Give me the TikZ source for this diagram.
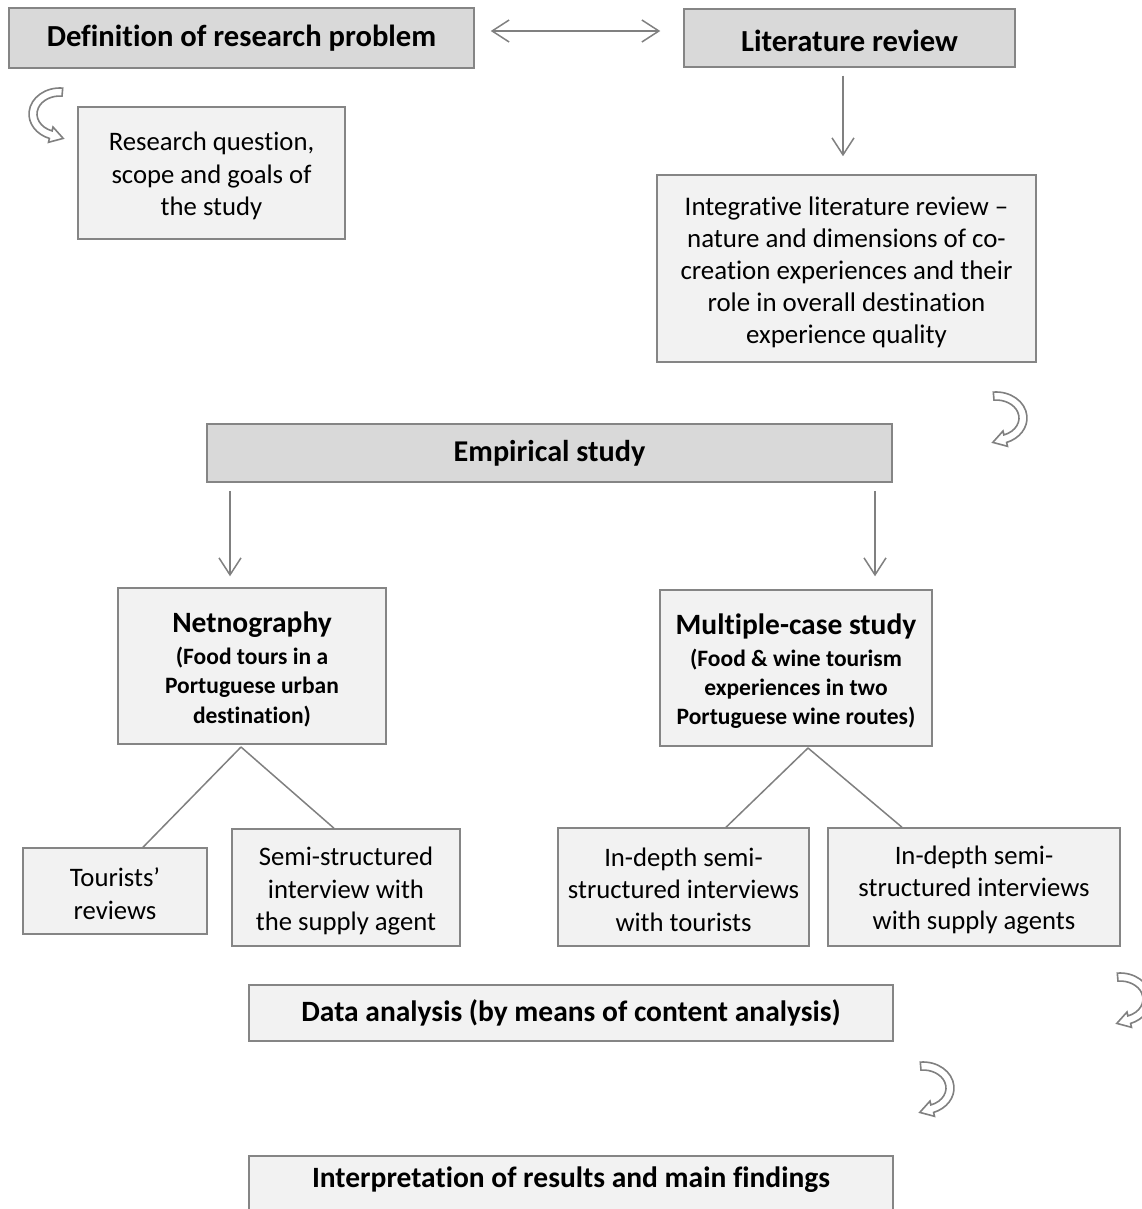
\documentclass[tikz,border=0pt]{standalone}
\usepackage{fontspec}
\setmainfont{Carlito}[Ligatures=CommonOff]
\usetikzlibrary{arrows.meta}
\definecolor{darkfill}{HTML}{D9D9D9}
\definecolor{lightfill}{HTML}{F2F2F2}
\definecolor{bordergray}{HTML}{858585}
\definecolor{linegray}{HTML}{808080}
\newcommand\fbody{\fontsize{26.7}{32.5}\selectfont}
\newcommand\fbodyb{\fontsize{26.9}{32}\selectfont}
\newcommand\fhead{\fontsize{29.5}{36}\selectfont\bfseries}
\newcommand\fheadl{\fontsize{30.6}{36}\selectfont\bfseries}
\newcommand\fsub{\fontsize{23.5}{29.3}\selectfont\bfseries}
\newcommand\tstrut[1]{\rule{0pt}{#1pt}}
\newcommand\curvarr[2]{%
  \begin{scope}[shift={#1}, x=1pt, y=1pt, #2]
    \draw[cshape] (85:31 and 26) arc[start angle=85, end angle=250, x radius=31, y radius=26]
      -- (-11.5,-28.3) -- (3.2,-24.4) -- (-7.0,-13.0) -- (250:23 and 18)
      arc[start angle=250, end angle=85, x radius=23, y radius=18] -- cycle;
  \end{scope}}
\begin{document}
\begin{tikzpicture}[x=1pt,y=-1pt,
  box/.style={draw=bordergray, line width=1.5pt, fill=lightfill, align=center, inner sep=0pt, text=black},
  hbox/.style={box, fill=darkfill, font=\fheadl},
  bbox/.style={box, font=\fbody},
  sbox/.style={box, font=\fsub},
  conn/.style={draw=linegray, line width=1.5pt},
  tip/.tip={Straight Barb[length=17pt, width=22pt]},
  cshape/.style={draw=linegray, line width=1.6pt, fill=white, line join=miter}]
\useasboundingbox (0,0) rectangle (1142,1209);
\clip (0,0) rectangle (1142,1209);
\fill[white] (0,0) rectangle (1142,1209);

% top row
\node[hbox, minimum width=465, minimum height=60] (def) at (241.5,38) {Definition of research problem};
\node[hbox, minimum width=331, minimum height=58, text height=43pt, text depth=15pt] (lit) at (849.5,38) {Literature review};
\draw[conn, tip-tip, shorten <=16pt, shorten >=23pt] (def.east |- 0,31) -- (lit.west |- 0,31);

% research question
\node[bbox, minimum width=267, minimum height=132] (rq) at (211.5,173) {\tstrut{25}Research question,\\scope and goals of\\the study};

% integrative review
\node[bbox, font=\fbodyb, minimum width=379, minimum height=187] (ilr) at (846.5,268.5) {\tstrut{26}Integrative literature review –\\nature and dimensions of co-\\creation experiences and their\\role in overall destination\\experience quality};
\draw[conn, -tip, shorten <=8pt, shorten >=18pt] (lit.south -| 843,0) -- (ilr.north -| 843,0);

% empirical study
\node[hbox, font=\fontsize{30.2}{36}\selectfont\bfseries, minimum width=685, minimum height=58] (emp) at (549.5,453) {Empirical study};

% netnography / multiple case
\node[sbox, minimum width=268, minimum height=156] (net) at (252,666)
  {\tstrut{27}{\fhead Netnography}\\[3pt](Food tours in a\\Portuguese urban\\destination)};
\node[sbox, minimum width=272, minimum height=156] (mcs) at (796,668)
  {\tstrut{27}{\fhead Multiple-case study}\\[3pt](Food \& wine tourism\\experiences in two\\Portuguese wine routes)};
\draw[conn, -tip, shorten <=8pt, shorten >=11pt] (emp.south -| 230,0) -- (net.north -| 230,0);
\draw[conn, -tip, shorten <=8pt, shorten >=13pt] (emp.south -| 875,0) -- (mcs.north -| 875,0);

% leaves
\node[bbox, minimum width=184, minimum height=86] (tr) at (115,891) {\tstrut{24}Tourists’\\reviews};
\node[bbox, minimum width=228, minimum height=117] (ssi) at (346,887.5) {\tstrut{26}Semi-structured\\interview with\\the supply agent};
\node[bbox, minimum width=251, minimum height=118] (idt) at (683.5,887) {\tstrut{24}In-depth semi-\\structured interviews\\with tourists};
\node[bbox, minimum width=292, minimum height=118] (ids) at (974,887) {\tstrut{24}In-depth semi-\\structured interviews\\with supply agents};

\coordinate (napex) at (241,747);
\coordinate (mapex) at (808,748);
\draw[conn] (napex) -- (tr.north -| 143,0);
\draw[conn] (napex) -- (ssi.north -| 334,0);
\draw[conn] (mapex) -- (idt.north -| 726,0);
\draw[conn] (mapex) -- (ids.north -| 902,0);

% analysis and interpretation
\node[box, minimum width=644, minimum height=56, font=\fhead] (da) at (571,1013) {Data analysis (by means of content analysis)};
\node[box, anchor=north, minimum width=644, text height=32pt, text depth=38pt, font=\fhead] (ir) at (571,1155) {Interpretation of results and main findings};

% curved block arrows
\curvarr{(60,114)}{}
\curvarr{(996,418)}{xscale=-1}
\curvarr{(1120,999)}{xscale=-1}
\curvarr{(923,1088)}{xscale=-1}
\end{tikzpicture}
\end{document}
